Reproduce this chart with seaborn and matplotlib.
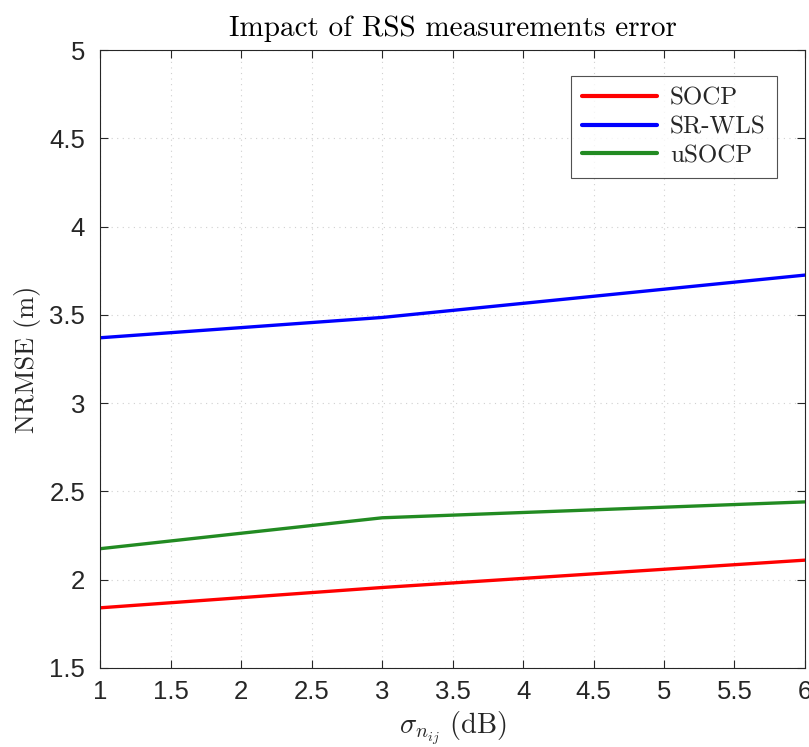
import matplotlib

matplotlib.use("Agg")
import matplotlib.pyplot as plt
import pandas as pd
import seaborn as sns

SIGMA = [1, 3, 6]
SOCP = [1.84, 1.955, 2.11]
SR_WLS = [3.37, 3.485, 3.725]
USOCP = [2.175, 2.35, 2.44]
METHODS = ["SOCP", "SR-WLS", "uSOCP"]
COLORS = ["#ff0000", "#0000ff", "#228b22"]
X_TICKS = [1, 1.5, 2, 2.5, 3, 3.5, 4, 4.5, 5, 5.5, 6]
Y_TICKS = [1.5, 2, 2.5, 3, 3.5, 4, 4.5, 5]
SERIF = ["cmr10", "DejaVu Serif"]


def main():
    sns.set_theme(style="white")
    plt.rcParams["font.family"] = ["Liberation Sans", "DejaVu Sans"]
    plt.rcParams["mathtext.fontset"] = "cm"

    df = pd.DataFrame({
        "sigma": SIGMA * 3,
        "nrmse": SOCP + SR_WLS + USOCP,
        "method": [m for m in METHODS for _ in SIGMA],
    })

    fig, ax = plt.subplots(figsize=(8.09, 7.47), dpi=100)
    fig.subplots_adjust(left=0.124, right=0.995, bottom=0.106, top=0.933)
    sns.lineplot(data=df, x="sigma", y="nrmse", hue="method", hue_order=METHODS,
                 palette=COLORS, linewidth=2.4, ax=ax)

    ax.set_xlim(1, 6)
    ax.set_ylim(1.5, 5)
    ax.set_xticks(X_TICKS)
    ax.set_xticklabels([f"{t:g}" for t in X_TICKS])
    ax.set_yticks(Y_TICKS)
    ax.set_yticklabels([f"{t:g}" for t in Y_TICKS])
    ax.tick_params(direction="in", length=6, width=0.8, labelsize=18.5, colors="#262626",
                   top=True, right=True, bottom=True, left=True, pad=9)
    ax.tick_params(axis="y", pad=11)
    ax.grid(True, linestyle=(0, (1, 4)), color="#d0d0d0", linewidth=0.8)
    for s in ax.spines.values():
        s.set_color("#262626")
        s.set_linewidth(0.8)

    ax.set_xlabel(r"$\sigma_{n_{ij}}\ \mathrm{(dB)}$", fontsize=20.5, color="#262626", labelpad=4)
    ax.set_ylabel("NRMSE (m)", family=SERIF, fontsize=19, color="#262626", labelpad=6)
    ax.set_title("Impact of RSS measurements error", family=SERIF, fontsize=21,
                 color="black", pad=10)

    leg = ax.legend(loc="upper right", bbox_to_anchor=(0.960, 0.958), borderaxespad=0,
                    prop={"family": SERIF, "size": 18},
                    frameon=True, fancybox=False, edgecolor="#262626", handlelength=3.0,
                    borderpad=0.45, labelspacing=0.25, handletextpad=0.5)
    leg.get_frame().set_linewidth(0.8)
    for line in leg.get_lines():
        line.set_linewidth(3.0)

    fig.savefig("out.png", dpi=100)


if __name__ == "__main__":
    main()
